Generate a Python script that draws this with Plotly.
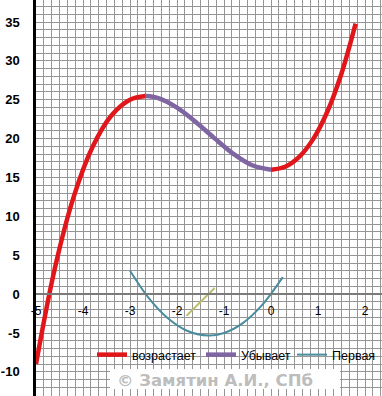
import plotly.graph_objects as go

# increasing part 1
inc1_x = [-5.0, -4.6, -4.2, -3.8, -3.4, -3.0, -2.67]
inc1_y = [-9.0, 3.3, 12.47, 18.89, 22.94, 25.0, 25.48]
# decreasing part
dec_x = [-2.67, -2.4, -2.0, -1.6, -1.2, -0.8, -0.4, 0.0]
dec_y = [25.48, 25.22, 24.0, 22.14, 20.03, 18.05, 16.58, 16.0]
# increasing part 2
inc2_x = [0.0, 0.3, 0.6, 0.9, 1.2, 1.5, 1.8]
inc2_y = [16.0, 16.39, 17.66, 19.97, 23.49, 28.38, 34.79]
# first derivative
d1_x = [-3.0, -2.6, -2.2, -1.8, -1.33, -1.0, -0.6, -0.2, 0.25]
d1_y = [3.0, -0.52, -3.08, -4.68, -5.33, -5.0, -3.72, -1.48, 2.19]
# second derivative (short segment)
d2_x = [-1.8, -1.2]
d2_y = [-2.8, 0.8]

y_ticks = [-10, -5, 0, 5, 10, 15, 20, 25, 30, 35]
x_ticks = [-5, -4, -3, -2, -1, 0, 1, 2]

RED = "#E0161B"
PURPLE = "#7F65A2"
TEAL = "#4A8C9E"
OLIVE = "#B9BE6E"
GRID = "#959595"

W, H = 382, 396
ML = 36
PW, PH = W - ML, H

fig = go.Figure()
fig.add_trace(go.Scatter(x=inc1_x + [None] + inc2_x, y=inc1_y + [None] + inc2_y,
                         mode="lines", line=dict(color=RED, width=4.5, shape="spline"),
                         name="возрастает", connectgaps=False, legend="legend"))
fig.add_trace(go.Scatter(x=dec_x, y=dec_y, mode="lines",
                         line=dict(color=PURPLE, width=4.5, shape="spline"), name="Убывает",
                         legend="legend2"))
fig.add_trace(go.Scatter(x=d1_x, y=d1_y, mode="lines",
                         line=dict(color=TEAL, width=2, shape="spline"), name="Первая",
                         legend="legend3"))
fig.add_trace(go.Scatter(x=d2_x, y=d2_y, mode="lines",
                         line=dict(color=OLIVE, width=2), name="Вторая", showlegend=False))

y_lo, y_hi = -13.1, 37.83
zero_frac = (0 - y_lo) / (y_hi - y_lo)

def px(sx):
    return (sx - ML) / PW

def py(sy):
    return 1 - sy / PH

def leg(sx):
    return dict(orientation="h", x=px(sx), y=py(355), xanchor="left", yanchor="middle",
                bgcolor="rgba(0,0,0,0)", font=dict(size=12.5), itemwidth=30,
                borderwidth=0)

fig.update_layout(
    width=W, height=H,
    margin=dict(l=ML, r=0, t=0, b=0, autoexpand=False),
    paper_bgcolor="white", plot_bgcolor="white",
    font=dict(family="Liberation Sans, Arial, sans-serif", color="black"),
    showlegend=True,
    legend=leg(92), legend2=leg(201), legend3=leg(292),
    shapes=[dict(type="rect", xref="paper", yref="paper",
                 x0=px(110), x1=px(340), y0=py(389), y1=py(369),
                 fillcolor="white", line=dict(width=0), layer="above")],
    annotations=[dict(text="© Замятин А.И., СПб", xref="paper", yref="paper",
                      x=px(215), y=py(380), xanchor="center", yanchor="middle", showarrow=False,
                      font=dict(family="DejaVu Sans", size=16.5, color="#BDBDBD",
                                weight="bold"))],
)
fig.update_xaxes(range=[-5, -5 + PW / 47.0], tickvals=x_ticks, ticktext=[str(v) for v in x_ticks],
                 showgrid=True, gridcolor=GRID, gridwidth=1,
                 minor=dict(dtick=1/6, tick0=-5, showgrid=True, gridcolor=GRID, gridwidth=1),
                 zeroline=False, anchor="free", position=zero_frac,
                 showline=True, linecolor="#7A7A7A", linewidth=2,
                 ticks="", ticklabelstandoff=5, tickfont=dict(size=12))
fig.update_yaxes(range=[y_lo, y_hi], tickvals=y_ticks, ticktext=[str(v) for v in y_ticks],
                 showgrid=True, gridcolor=GRID, gridwidth=1,
                 minor=dict(dtick=1, tick0=0, showgrid=True, gridcolor=GRID, gridwidth=1),
                 zeroline=False, showline=True, linecolor="black", linewidth=2.5,
                 ticks="", ticklabelstandoff=11,
                 tickfont=dict(size=13, weight="bold"))

fig.write_html("out.html", config={"displayModeBar": False},
               post_script="document.body.style.margin='0';document.body.style.overflow='hidden';")
